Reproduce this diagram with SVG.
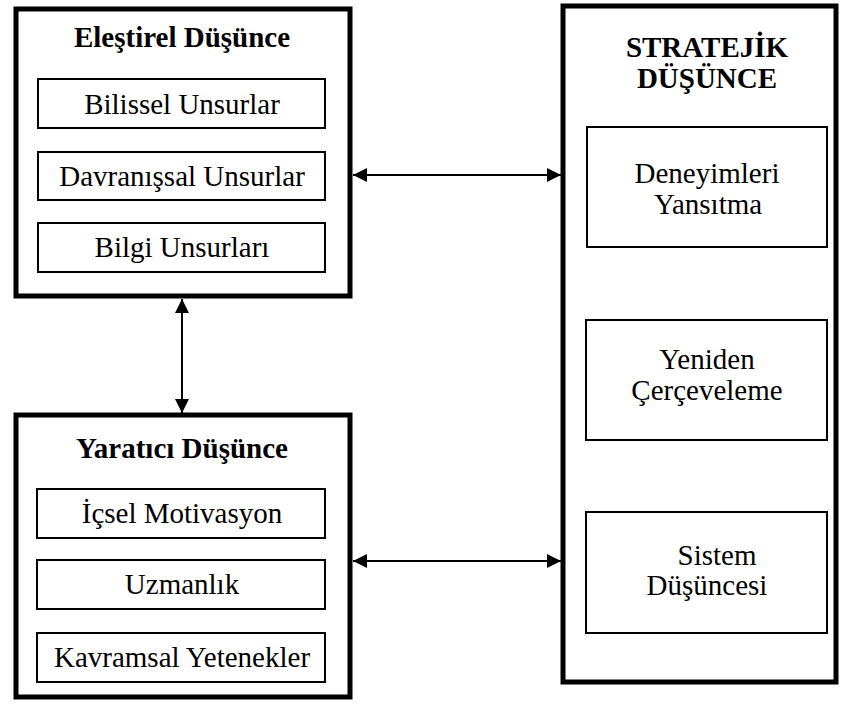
<svg xmlns="http://www.w3.org/2000/svg" width="843" height="708" viewBox="0 0 843 708">
  <style>
    .outer { fill: #fff; stroke: #000; stroke-width: 5; }
    .inner { fill: #fff; stroke: #000; stroke-width: 2; }
    .t { font-size: 29px; fill: #000; text-anchor: middle; }
    .b { font-weight: bold; }
    .conn { stroke: #000; stroke-width: 2; fill: none; }
  </style>
  <defs>
    <marker id="arrow" viewBox="0 0 14 14" refX="14" refY="7" markerWidth="14" markerHeight="14" markerUnits="userSpaceOnUse" orient="auto-start-reverse">
      <path d="M0,0 L14,7 L0,14 z" fill="#000"/>
    </marker>
  </defs>
  <rect width="843" height="708" fill="#fff"/>

  <g font-family="'Liberation Serif', 'Times New Roman', 'DejaVu Serif', serif">
    <!-- Critical thinking -->
    <g id="elestirel">
      <rect class="outer" x="16" y="9" width="334" height="287"/>
      <text class="t b" x="182" y="47">Eleştirel Düşünce</text>
      <rect class="inner" x="38" y="79" width="287" height="49"/>
      <text class="t" x="182" y="114">Bilissel Unsurlar</text>
      <rect class="inner" x="38" y="152" width="287" height="48"/>
      <text class="t" x="182" y="186">Davranışsal Unsurlar</text>
      <rect class="inner" x="38" y="223" width="287" height="49"/>
      <text class="t" x="182" y="257">Bilgi Unsurları</text>
    </g>

    <!-- Creative thinking -->
    <g id="yaratici">
      <rect class="outer" x="16" y="415" width="334" height="282"/>
      <text class="t b" x="182" y="458">Yaratıcı Düşünce</text>
      <rect class="inner" x="37" y="489" width="288" height="49"/>
      <text class="t" x="182" y="523">İçsel Motivasyon</text>
      <rect class="inner" x="37" y="560" width="288" height="49"/>
      <text class="t" x="182" y="594">Uzmanlık</text>
      <rect class="inner" x="37" y="633" width="288" height="49"/>
      <text class="t" x="182" y="667">Kavramsal Yetenekler</text>
    </g>

    <!-- Strategic thinking -->
    <g id="stratejik">
      <rect class="outer" x="563" y="6" width="273" height="676"/>
      <text class="t b" x="707" y="57">STRATEJİK</text>
      <text class="t b" x="707" y="88">DÜŞÜNCE</text>
      <rect class="inner" x="587" y="127" width="240" height="120"/>
      <text class="t" x="707" y="183">Deneyimleri</text>
      <text class="t" x="708" y="214">Yansıtma</text>
      <rect class="inner" x="586" y="320" width="241" height="120"/>
      <text class="t" x="707" y="369">Yeniden</text>
      <text class="t" x="707" y="400">Çerçeveleme</text>
      <rect class="inner" x="586" y="512" width="241" height="121"/>
      <text class="t" x="717" y="565">Sistem</text>
      <text class="t" x="707" y="595">Düşüncesi</text>
    </g>
  </g>

  <!-- Connectors -->
  <g id="connectors">
    <line class="conn" x1="182" y1="299" x2="182" y2="413" marker-start="url(#arrow)" marker-end="url(#arrow)"/>
    <line class="conn" x1="353" y1="175" x2="561" y2="175" marker-start="url(#arrow)" marker-end="url(#arrow)"/>
    <line class="conn" x1="353" y1="561" x2="561" y2="561" marker-start="url(#arrow)" marker-end="url(#arrow)"/>
  </g>
</svg>
